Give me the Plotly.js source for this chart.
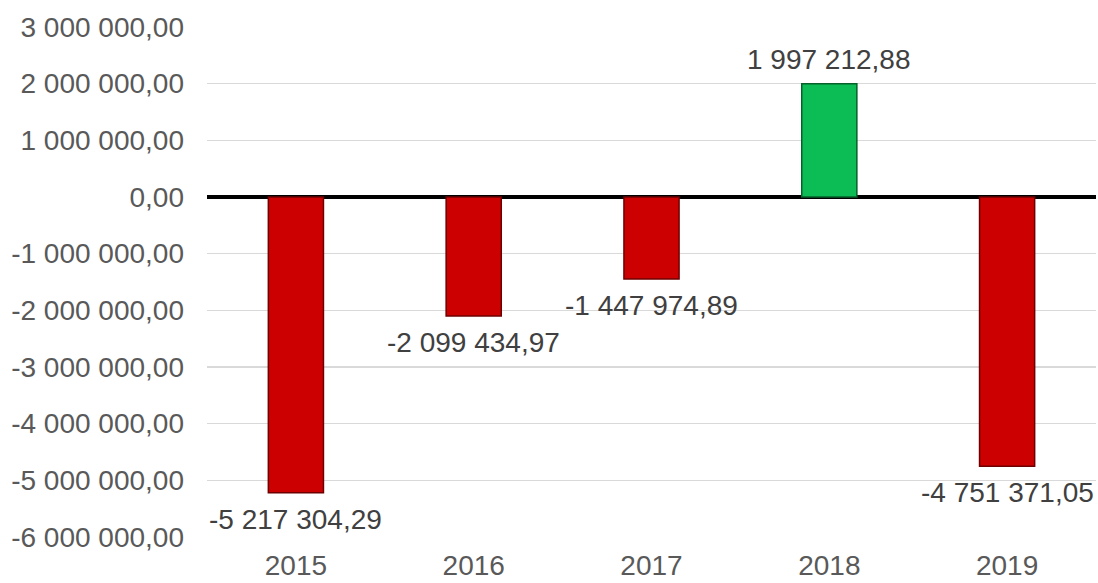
<!DOCTYPE html>
<html>
<head>
<meta charset="utf-8">
<script src="https://cdn.plot.ly/plotly-3.0.1.min.js"></script>
<style>html,body{margin:0;padding:0;background:#fff;}#chart{width:1098px;height:583px;}</style>
</head>
<body>
<div id="chart"></div>
<script>
const years = ["2015", "2016", "2017", "2018", "2019"];
const values = [-5217304.29, -2099434.97, -1447974.89, 1997212.88, -4751371.05];
const tickValues = [3000000, 2000000, 1000000, 0, -1000000, -2000000, -3000000, -4000000, -5000000, -6000000];
const negColor = "#CC0000";
const posColor = "#0CBC55";

function fmt(v) {
  const neg = v < 0;
  const a = Math.abs(v).toFixed(2).split(".");
  const intPart = a[0].replace(/\B(?=(\d{3})+(?!\d))/g, " ");
  return (neg ? "-" : "") + intPart + "," + a[1];
}

const colors = values.map(v => v < 0 ? negColor : posColor);
const lineColors = values.map(v => v < 0 ? "#6e0000" : "#05602a");

const trace = {
  type: "bar",
  x: years,
  y: values,
  marker: { color: colors, line: { color: lineColors, width: 1.5 } },
  hoverinfo: "x+y"
};

const annotations = years.map((yr, i) => ({
  x: i, y: values[i], xref: "x", yref: "y",
  text: fmt(values[i]), showarrow: false,
  xanchor: "center",
  yanchor: values[i] < 0 ? "top" : "bottom",
  yshift: values[i] < 0 ? -9 : 7,
  font: { family: "Liberation Sans, Arial, sans-serif", size: 28, color: "#404040" }
}));

const layout = {
  width: 1098, height: 583,
  margin: { l: 207, r: 2, t: 27, b: 46 },
  paper_bgcolor: "#fff", plot_bgcolor: "#fff",
  bargap: 0.69,
  showlegend: false,
  annotations: annotations,
  font: { family: "Liberation Sans, Arial, sans-serif", size: 28, color: "#595959" },
  xaxis: {
    type: "category",
    categoryarray: years, categoryorder: "array",
    range: [-0.5, years.length - 0.5],
    showgrid: false, showline: false, zeroline: false,
    ticks: "", ticklabelstandoff: 9,
    tickfont: { size: 28, color: "#595959" }
  },
  yaxis: {
    range: [-6000000, 3000000],
    tickvals: tickValues,
    ticktext: tickValues.map(fmt),
    showgrid: true, gridcolor: "#D9D9D9", gridwidth: 1.3,
    zeroline: true, zerolinecolor: "#000000", zerolinewidth: 3.5,
    showline: false, ticks: "", ticklabelstandoff: 22,
    tickfont: { size: 28, color: "#595959" }
  }
};

Plotly.newPlot("chart", [trace], layout, { displayModeBar: false, staticPlot: true });
</script>
</body>
</html>
